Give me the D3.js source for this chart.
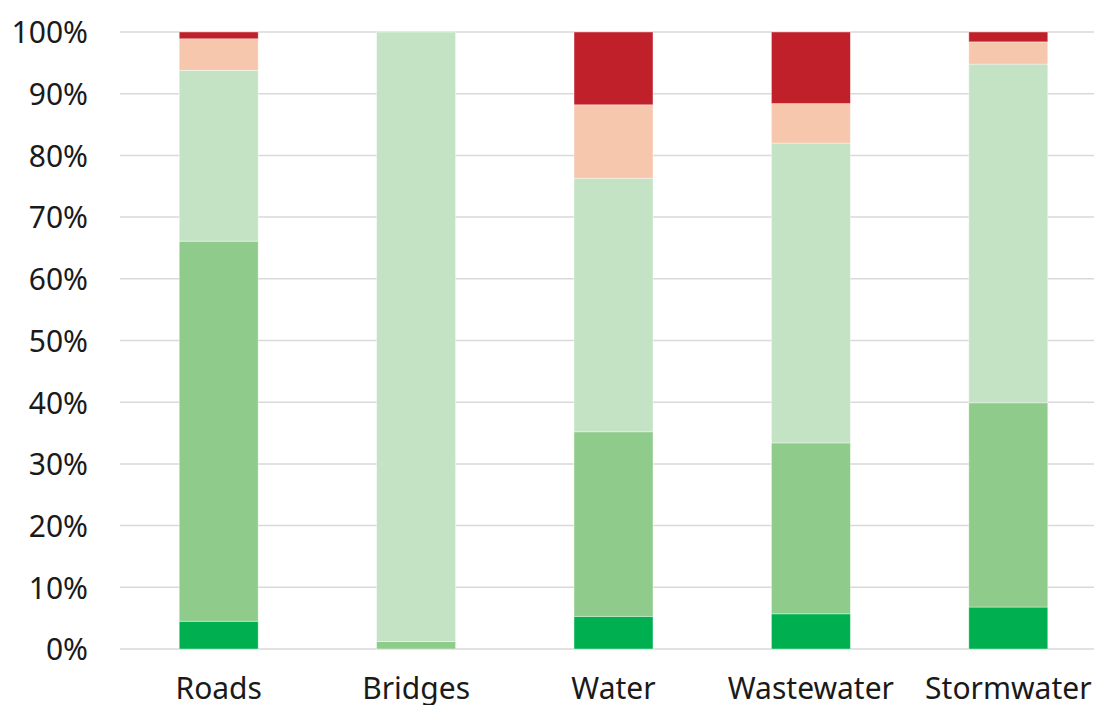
<!DOCTYPE html>
<html><head><meta charset="utf-8">
<script src="https://cdn.jsdelivr.net/npm/d3@7"></script>
<style>body{margin:0;background:#fff}svg{display:block}text{font-family:"Noto Sans","Open Sans",sans-serif;fill:#1a1a1a}</style>
</head><body><svg width="1094" height="705"></svg>
<script>
const categories = ["Roads","Bridges","Water","Wastewater","Stormwater"];
const seriesNames = ["Very good","Good","Fair","Poor","Very poor"];
const veryGood = [4.5, 0, 5.3, 5.7, 6.8];
const good = [61.6, 1.2, 29.9, 27.7, 33.1];
const fair = [27.7, 98.8, 41.1, 48.6, 54.9];
const poor = [5.1, 0, 11.9, 6.4, 3.6];
const veryPoor = [1.1, 0, 11.8, 11.6, 1.6];
const colors = ["#00b050","#8fcb8a","#c4e3c5","#f6c7ac","#c0202a"];
const yTicks = [0,10,20,30,40,50,60,70,80,90,100];

const svg = d3.select("svg");
const x = d3.scaleBand().domain(categories).range([120,1107]).paddingInner(0.6).paddingOuter(0.3);
const y = d3.scaleLinear().domain([0,100]).range([649,32]);

svg.append("g").selectAll("line").data(yTicks).join("line")
  .attr("x1",120).attr("x2",1094).attr("y1",d=>y(d)).attr("y2",d=>y(d))
  .attr("stroke","#d9d9d9").attr("stroke-width",1.5);

const rows = categories.map((c,i)=>({cat:c, "Very good":veryGood[i], "Good":good[i], "Fair":fair[i], "Poor":poor[i], "Very poor":veryPoor[i]}));
const stacked = d3.stack().keys(seriesNames)(rows);
svg.append("g").selectAll("g").data(stacked).join("g").attr("fill",(d,i)=>colors[i])
  .selectAll("rect").data(d=>d).join("rect")
  .attr("x",d=>x(d.data.cat)).attr("width",x.bandwidth())
  .attr("y",d=>y(d[1])).attr("height",d=>Math.max(0,y(d[0])-y(d[1])))
  .attr("stroke","#ffffff").attr("stroke-opacity",0.5).attr("stroke-width",0.75);

const font = "'Noto Sans','Open Sans',sans-serif";
const yAxis = d3.axisLeft(y).tickValues(yTicks).tickFormat(d=>d+"%").tickSize(0).tickPadding(0);
const ga = svg.append("g").attr("transform","translate(88,0)").call(yAxis);
ga.select(".domain").remove();
ga.selectAll("text").attr("font-size",30).attr("font-family",font).attr("fill","#1a1a1a").attr("dy","0.36em");

const xAxis = d3.axisBottom(x).tickSize(0).tickPadding(0);
const gx = svg.append("g").attr("transform","translate(0,699)").call(xAxis);
gx.select(".domain").remove();
gx.selectAll("text").attr("font-size",30).attr("font-family",font).attr("fill","#1a1a1a").attr("dy","0");
</script></body></html>
